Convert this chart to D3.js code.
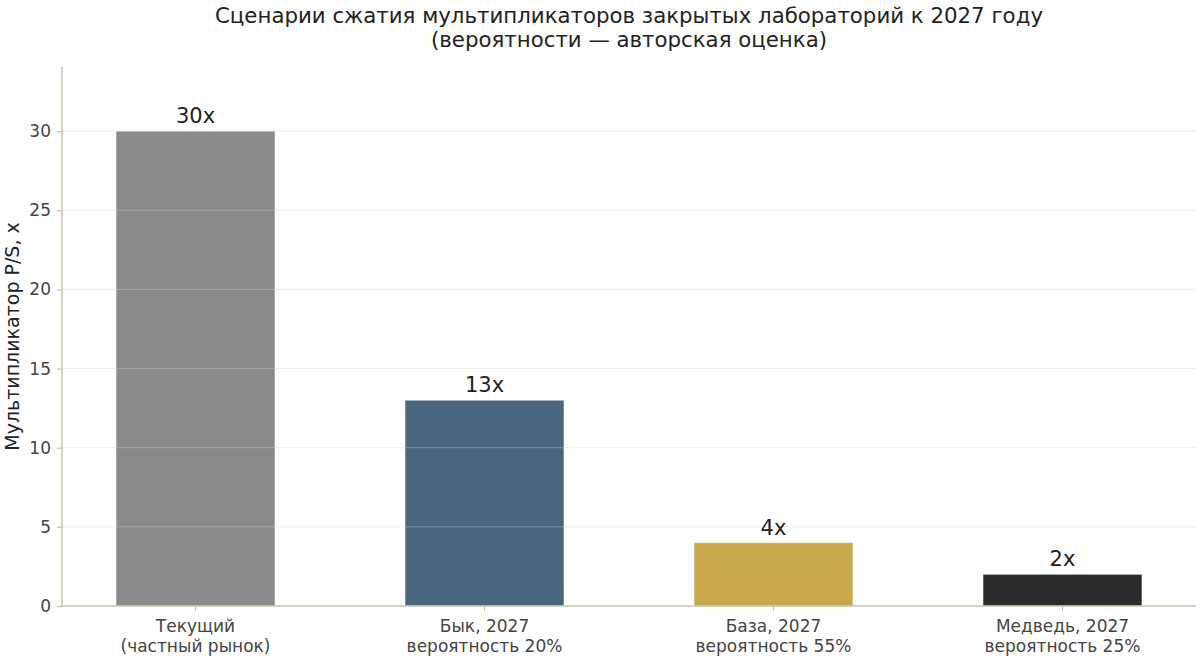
<!DOCTYPE html>
<html>
<head>
<meta charset="utf-8">
<script src="https://cdn.jsdelivr.net/npm/d3@7"></script>
<style>
body{margin:0;background:#fff;}
svg{display:block;font-family:"DejaVu Sans",sans-serif;}
</style>
</head>
<body>
<svg id="chart" width="1200" height="661"></svg>
<script>
const categories = ["Текущий\n(частный рынок)", "Бык, 2027\nвероятность 20%", "База, 2027\nвероятность 55%", "Медведь, 2027\nвероятность 25%"];
const values = [30, 13, 4, 2];
const valueLabels = ["30x", "13x", "4x", "2x"];
const colors = ["#8a8a8a", "#4a6580", "#c9a84c", "#2b2b2b"];
const yTicks = [0, 5, 10, 15, 20, 25, 30];
const titleLines = ["Сценарии сжатия мультипликаторов закрытых лабораторий к 2027 году", "(вероятности — авторская оценка)"];
const yLabel = "Мультипликатор P/S, x";

(function () {
const svg = d3.select("#chart");
const mLeft = 62, mRight = 1196, mTop = 67, mBottom = 606;

const x = d3.scaleBand().domain(categories).range([mLeft, mRight]).paddingInner(0.45).paddingOuter(0.187);
const y = d3.scaleLinear().domain([0, 34.05]).range([mBottom, mTop]);

// bars
svg.append("g").selectAll("rect").data(values).join("rect")
  .attr("x", (d, i) => x(categories[i]))
  .attr("y", d => y(d))
  .attr("width", x.bandwidth())
  .attr("height", d => y(0) - y(d))
  .attr("fill", (d, i) => colors[i])
  .attr("stroke", "#ffffff").attr("stroke-opacity", 0.5).attr("stroke-width", 1);

// gridlines on top
svg.append("g").selectAll("line").data(yTicks.filter(t => t > 0)).join("line")
  .attr("x1", mLeft).attr("x2", mRight)
  .attr("y1", d => y(d)).attr("y2", d => y(d))
  .attr("stroke", "#d0d0d0").attr("stroke-opacity", 0.4).attr("stroke-width", 1);

// value labels
svg.append("g").selectAll("text").data(values).join("text")
  .attr("x", (d, i) => x(categories[i]) + x.bandwidth() / 2)
  .attr("y", d => y(d) - 8)
  .attr("text-anchor", "middle")
  .attr("font-size", 21).attr("fill", "#222")
  .text((d, i) => valueLabels[i]);

const axisColor = "#c4c4b0";
// y axis
const yAxis = svg.append("g").attr("transform", `translate(${mLeft},0)`)
  .call(d3.axisLeft(y).tickValues(yTicks).tickSize(5).tickPadding(6));
yAxis.select(".domain").attr("stroke", axisColor).attr("stroke-width", 1.5).attr("d", `M0,${mTop}V${mBottom}`);
yAxis.selectAll(".tick line").attr("stroke", axisColor).attr("stroke-width", 1.2);
yAxis.selectAll(".tick text").attr("font-size", 17).attr("fill", "#444").attr("font-family", "DejaVu Sans");

// x axis
const xAxis = svg.append("g").attr("transform", `translate(0,${mBottom})`)
  .call(d3.axisBottom(x).tickSize(5).tickFormat(""));
xAxis.select(".domain").attr("stroke", axisColor).attr("stroke-width", 1.5).attr("d", `M${mLeft},0H${mRight}`);
xAxis.selectAll(".tick line").attr("stroke", axisColor).attr("stroke-width", 1.2);
xAxis.selectAll(".tick").each(function(d) {
  const t = d3.select(this).append("text")
    .attr("text-anchor", "middle").attr("font-size", 17).attr("fill", "#444")
    .attr("font-family", "DejaVu Sans");
  d.split("\n").forEach((line, i) => {
    t.append("tspan").attr("x", 0).attr("y", 26 + i * 20).text(line);
  });
});

// y label
svg.append("text")
  .attr("transform", `translate(19,${(mTop + mBottom) / 2}) rotate(-90)`)
  .attr("text-anchor", "middle").attr("font-size", 19).attr("fill", "#222")
  .text(yLabel);

// title
svg.append("g").selectAll("text").data(titleLines).join("text")
  .attr("x", (mLeft + mRight) / 2).attr("y", (d, i) => 23 + i * 24)
  .attr("text-anchor", "middle").attr("font-size", 21.3).attr("fill", "#222")
  .text(d => d);
})();
</script>
</body>
</html>
